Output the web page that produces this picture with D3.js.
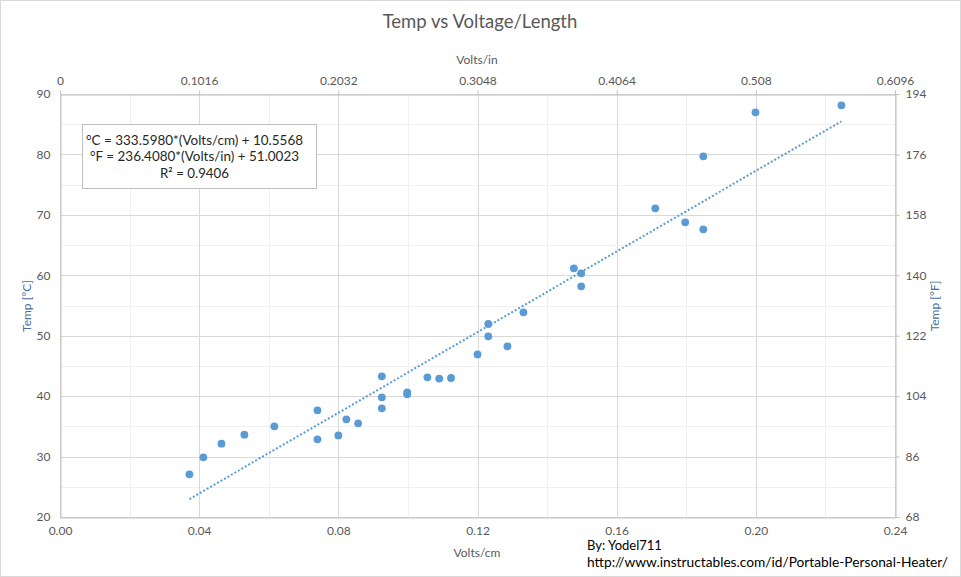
<!DOCTYPE html>
<html>
<head>
<meta charset="utf-8">
<script src="https://cdn.jsdelivr.net/npm/d3@7"></script>
<style>
  body { margin: 0; background: #fff; }
  svg { display: block; font-family: Lato, "Open Sans", sans-serif; }
</style>
</head>
<body>
<svg id="chart" width="961" height="577"></svg>
<script>
// ---- data ----
const voltsCm = [0.0372, 0.0412, 0.0464, 0.0530, 0.0616, 0.0740, 0.0740, 0.0800, 0.0823, 0.0857,
                 0.0925, 0.0925, 0.0925, 0.0998, 0.0998, 0.1056, 0.1090, 0.1124, 0.1200, 0.1231,
                 0.1231, 0.1286, 0.1332, 0.1477, 0.1498, 0.1498, 0.1711, 0.1797, 0.1849, 0.1849,
                 0.1999, 0.2246];
const tempC   = [27.07, 29.88, 32.13, 33.62, 35.00, 37.65, 32.85, 33.50, 36.17, 35.50,
                 37.98, 39.80, 43.28, 40.30, 40.60, 43.12, 42.90, 43.00, 46.90, 51.94,
                 49.90, 48.25, 53.87, 61.16, 60.33, 58.18, 71.08, 68.77, 79.69, 67.61,
                 86.97, 88.13];
const bottomTicks = [0.00, 0.04, 0.08, 0.12, 0.16, 0.20, 0.24];
const bottomTickLabels = ["0.00", "0.04", "0.08", "0.12", "0.16", "0.20", "0.24"];
const topTicks = [0, 0.1016, 0.2032, 0.3048, 0.4064, 0.508, 0.6096];
const topTickLabels = ["0", "0.1016", "0.2032", "0.3048", "0.4064", "0.508", "0.6096"];
const leftTicks = [20, 30, 40, 50, 60, 70, 80, 90];
const rightTicks = [68, 86, 104, 122, 140, 158, 176, 194];
const trendSlope = 333.5980, trendIntercept = 10.5568;
const legendLines = ["°C = 333.5980*(Volts/cm) + 10.5568", "°F = 236.4080*(Volts/in) + 51.0023", "R² = 0.9406"];

// ---- layout ----
const svg = d3.select("#chart");
const L = 60, R = 895, T = 94, B = 517;
const x = d3.scaleLinear().domain([0, 0.24]).range([L, R]);
const xTop = d3.scaleLinear().domain([0, 0.6096]).range([L, R]);
const y = d3.scaleLinear().domain([20, 90]).range([B, T]);
const yRight = d3.scaleLinear().domain([68, 194]).range([B, T]);
const gray = "#595959";

svg.append("rect").attr("x", 0.5).attr("y", 0.5).attr("width", 960).attr("height", 576)
  .attr("fill", "#fff").attr("stroke", "#d9d9d9");

// minor grid
const minorX = d3.range(0.02, 0.24, 0.04);
const minorY = d3.range(25, 90, 10);
svg.append("g").selectAll("line").data(minorX).join("line")
  .attr("x1", d => Math.round(x(d)) + 0.5).attr("x2", d => Math.round(x(d)) + 0.5)
  .attr("y1", T).attr("y2", B).attr("stroke", "#f0f0f0");
svg.append("g").selectAll("line").data(minorY).join("line")
  .attr("y1", d => Math.round(y(d)) + 0.5).attr("y2", d => Math.round(y(d)) + 0.5)
  .attr("x1", L).attr("x2", R).attr("stroke", "#f0f0f0");
// major grid
svg.append("g").selectAll("line").data(bottomTicks).join("line")
  .attr("x1", d => Math.round(x(d)) + 0.5).attr("x2", d => Math.round(x(d)) + 0.5)
  .attr("y1", T).attr("y2", B).attr("stroke", "#d9d9d9");
svg.append("g").selectAll("line").data(leftTicks).join("line")
  .attr("y1", d => Math.round(y(d)) + 0.5).attr("y2", d => Math.round(y(d)) + 0.5)
  .attr("x1", L).attr("x2", R).attr("stroke", "#d9d9d9");

// axes
const axisStyle = g => {
  g.selectAll(".domain").attr("stroke", "#bfbfbf");
  g.selectAll(".tick line").attr("stroke", "#bfbfbf");
  g.selectAll(".tick text").attr("fill", gray).style("font-size", "12px")
    .style("font-family", "Lato, 'Open Sans', sans-serif");
};
svg.append("g").attr("transform", `translate(0,${B + 0.5})`)
  .call(d3.axisBottom(x).tickValues(bottomTicks).tickFormat((d, i) => bottomTickLabels[i]).tickSize(0).tickPadding(9))
  .call(axisStyle);
svg.append("g").attr("transform", `translate(0,${T + 0.5})`)
  .call(d3.axisTop(xTop).tickValues(topTicks).tickFormat((d, i) => topTickLabels[i]).tickSizeInner(4).tickSizeOuter(0).tickPadding(6))
  .call(axisStyle);
svg.append("g").attr("transform", `translate(${L + 0.5},0)`)
  .call(d3.axisLeft(y).tickValues(leftTicks).tickSize(0).tickPadding(10))
  .call(axisStyle);
svg.append("g").attr("transform", `translate(${R + 0.5},0)`)
  .call(d3.axisRight(yRight).tickValues(rightTicks).tickSizeInner(4).tickSizeOuter(0).tickPadding(6))
  .call(axisStyle);

// titles
svg.append("text").attr("x", 480).attr("y", 28).attr("text-anchor", "middle")
  .attr("fill", gray).style("font-size", "18.5px").text("Temp vs Voltage/Length");
svg.append("text").attr("x", 477).attr("y", 64).attr("text-anchor", "middle")
  .attr("fill", gray).style("font-size", "12px").text("Volts/in");
svg.append("text").attr("x", 477).attr("y", 557).attr("text-anchor", "middle")
  .attr("fill", gray).style("font-size", "12px").text("Volts/cm");
svg.append("text").attr("transform", "translate(31,306) rotate(-90)").attr("text-anchor", "middle")
  .attr("fill", "#4a6f9c").style("font-size", "12px").text("Temp  [°C]");
svg.append("text").attr("transform", "translate(939,306) rotate(-90)").attr("text-anchor", "middle")
  .attr("fill", "#4a6f9c").style("font-size", "12px").text("Temp  [°F]");

// trendline
const xMin = d3.min(voltsCm), xMax = d3.max(voltsCm);
svg.append("line")
  .attr("x1", x(xMin)).attr("y1", y(trendSlope * xMin + trendIntercept))
  .attr("x2", x(xMax)).attr("y2", y(trendSlope * xMax + trendIntercept))
  .attr("stroke", "#5b9bd5").attr("stroke-width", 2).attr("stroke-dasharray", "2,2");

// points
svg.append("g").selectAll("circle").data(voltsCm).join("circle")
  .attr("cx", d => x(d)).attr("cy", (d, i) => y(tempC[i])).attr("r", 3.9)
  .attr("fill", "#5b9bd5");

// equation box
svg.append("rect").attr("x", 82.5).attr("y", 124.5).attr("width", 234).attr("height", 64)
  .attr("fill", "#fff").attr("stroke", "#bfbfbf");
const lw = [217, 209, null];
legendLines.forEach((t, i) => {
  const tx = svg.append("text").attr("x", 194.5).attr("y", 145 + i * 16.3).attr("text-anchor", "middle")
    .attr("fill", "#262626").style("font-size", "13.3px").text(t);
  if (lw[i]) tx.attr("textLength", lw[i]).attr("lengthAdjust", "spacingAndGlyphs");
});

// footer
svg.append("text").attr("x", 587).attr("y", 550).attr("fill", "#000").style("font-size", "13px")
  .text("By: Yodel711");
svg.append("text").attr("x", 587).attr("y", 567).attr("fill", "#000").style("font-size", "13px")
  .attr("textLength", 361).attr("lengthAdjust", "spacingAndGlyphs")
  .text("http://www.instructables.com/id/Portable-Personal-Heater/");
</script>
</body>
</html>
